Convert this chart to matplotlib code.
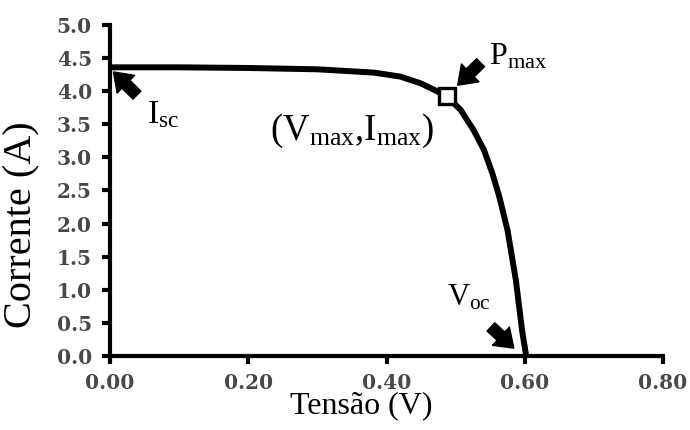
"""Curva I-V de uma celula solar."""
import numpy as np
import matplotlib.pyplot as plt

# -------------------------------------------------------
# Dados.
# -------------------------------------------------------
tensao = [0.000, 0.100, 0.200, 0.300, 0.333, 0.382, 0.420, 0.449, 0.469,
          0.487, 0.507, 0.526, 0.541, 0.553, 0.563, 0.575, 0.587, 0.596,
          0.602]
corrente = [4.36, 4.36, 4.35, 4.33, 4.31, 4.28, 4.22, 4.12, 4.02,
            3.92, 3.72, 3.41, 3.11, 2.76, 2.41, 1.90, 1.15, 0.39,
            0.00]
v_max, i_max = 0.487, 3.92
x_ticks = [0.00, 0.20, 0.40, 0.60, 0.80]
y_ticks = np.arange(0, 5.01, 0.5)

# -------------------------------------------------------
# Estilo.
# -------------------------------------------------------
plt.rcParams["font.family"] = ["Liberation Serif", "DejaVu Serif"]
plt.rcParams["mathtext.fontset"] = "custom"
plt.rcParams["mathtext.rm"] = "Liberation Serif"
plt.rcParams["mathtext.it"] = "Liberation Serif"

fig = plt.figure(figsize=(6.9, 4.3), dpi=100)
ax = fig.add_axes([0.1594, 0.172, 0.8016, 0.770])

ax.plot(tensao, corrente, color="black", lw=4.3, solid_capstyle="butt",
        solid_joinstyle="round", zorder=3)
ax.plot([v_max], [i_max], marker="s", ms=11.5, mfc="white", mec="black",
        mew=2.4, zorder=4)

# setas
seta = dict(arrowstyle="simple,head_length=0.7,head_width=1.0,tail_width=0.45",
            fc="black", ec="black", shrinkA=0, shrinkB=0, mutation_scale=18)
ax.annotate("", xy=(0.005, 4.29), xytext=(0.039, 3.94), arrowprops=seta)
ax.annotate("", xy=(0.503, 4.09), xytext=(0.536, 4.43), arrowprops=seta)
ax.annotate("", xy=(0.584, 0.12), xytext=(0.551, 0.44), arrowprops=seta)

# rotulos
ax.text(0.053, 3.64, r"$\mathrm{I_{sc}}$", fontsize=24, va="center")
ax.text(0.548, 4.52, r"$\mathrm{P_{max}}$", fontsize=23, va="center")
ax.text(0.232, 3.40, r"$\mathrm{(V_{max}{,}I_{max})}$", fontsize=26.5,
        va="center")
ax.text(0.487, 0.88, r"$\mathrm{V_{oc}}$", fontsize=22, va="center")

ax.set_xlim(0, 0.80)
ax.set_ylim(0, 5.0)
ax.set_xticks(x_ticks)
ax.set_xticklabels(["%.2f" % x for x in x_ticks])
ax.set_yticks(y_ticks)
ax.set_yticklabels(["%.1f" % y for y in y_ticks])
for lado in ["top", "right"]:
    ax.spines[lado].set_visible(False)
for lado in ["left", "bottom"]:
    ax.spines[lado].set_linewidth(3)
ax.tick_params(direction="out", length=6, width=3)
ax.tick_params(axis="x", pad=6)
ax.tick_params(axis="y", pad=7)
for lab in ax.get_xticklabels() + ax.get_yticklabels():
    lab.set_family("DejaVu Serif")
    lab.set_fontweight("bold")
    lab.set_fontsize(14.5)
    lab.set_color("#484848")

ax.set_xlabel("Tensão (V)", fontsize=23)
ax.xaxis.set_label_coords(0.454, -0.105)
ax.set_ylabel("Corrente (A)", fontsize=29)
ax.yaxis.set_label_coords(-0.125, 0.396)

plt.savefig("out.png", dpi=100)
plt.close()
